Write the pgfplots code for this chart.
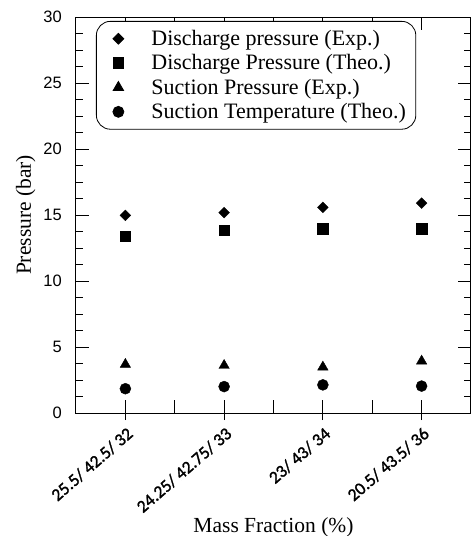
\documentclass[border=0pt]{standalone}
\usepackage{fontspec}
\setmainfont{Liberation Serif}
\newfontfamily\arialf{Liberation Sans}
\newfontfamily\calibrif[FakeBold=1.5]{Carlito}
\newcommand{\lbl}{\calibrif\fontsize{17.5}{19}\selectfont}
\usepackage{pgfplots}
\pgfplotsset{compat=1.18}
\begin{document}
\begin{tikzpicture}
\useasboundingbox (-76pt,-123pt) rectangle (397pt,413pt);
\begin{axis}[
 at={(0pt,0pt)}, anchor=south west,
 scale only axis, width=395pt, height=396pt,
 xmin=-0.5, xmax=3.5, ymin=0, ymax=30,
 xtick={0,0.5,1,1.5,2,2.5,3},
 xticklabels={{\lbl 25.5/ 42.5/ 32},{},{\lbl 24.25/ 42.75/ 33},{},{\lbl 23/ 43/ 34},{},{\lbl 20.5/ 43.5/ 36}},
 extra x ticks={0,1,2,3},
 extra x tick labels={},
 extra x tick style={tick align=outside, major tick length=7pt, xtick pos=bottom},
 ytick={0,5,...,30},
 minor y tick num=3,
 tick align=inside,
 major tick length=13pt, minor tick length=7pt,
 every tick/.style={black, line width=0.8pt},
 axis line style={line width=1pt},
 /pgf/number format/assume math mode=true,
 yticklabel style={font=\arialf\fontsize{16.5}{18}\selectfont, inner sep=0pt, xshift=-14pt},
 xticklabel style={inner sep=0pt, xshift=5pt, yshift=-18pt, rotate=41, anchor=east},
 xlabel={Mass Fraction (\%)},
 ylabel={Pressure (bar)},
 label style={font=\fontsize{21.5}{24}\selectfont},
 x label style={at={(axis description cs:0.5,-0.302)}, anchor=base},
 y label style={at={(axis description cs:-0.114,0.5)}, anchor=base},
 legend style={at={(0.0506,0.99)}, anchor=north west, draw=black, line width=0.8pt,
   rounded corners=14pt, font=\fontsize{22}{24}\selectfont,
   inner xsep=8pt, inner ysep=7pt, row sep=3.6pt,
   nodes={inner sep=2pt}},
 legend cell align=left,
 legend image post style={sharp corners},
 legend image code/.code={\path[draw=none,fill=none] (0pt,0pt) -- (45pt,0pt); \draw[#1,only marks] plot coordinates {(14pt,0pt)};},
]
\addplot[black, only marks, mark=square*, mark options={rotate=45}, mark size=3.8pt] coordinates {(0,14.97)(1,15.18)(2,15.58)(3,15.9)};
\addplot[black, only marks, mark=square*, mark size=5.3pt] coordinates {(0,13.39)(1,13.84)(2,13.94)(3,13.97)};
\addplot[black, only marks, mark=triangle*, mark size=6pt] coordinates {(0,3.68)(1,3.60)(2,3.48)(3,3.93)};
\addplot[black, only marks, mark=*, mark size=5.5pt] coordinates {(0,1.84)(1,2.00)(2,2.13)(3,2.04)};
\legend{Discharge pressure (Exp.), Discharge Pressure (Theo.), Suction Pressure (Exp.), Suction Temperature (Theo.)}
\end{axis}
\end{tikzpicture}
\end{document}
